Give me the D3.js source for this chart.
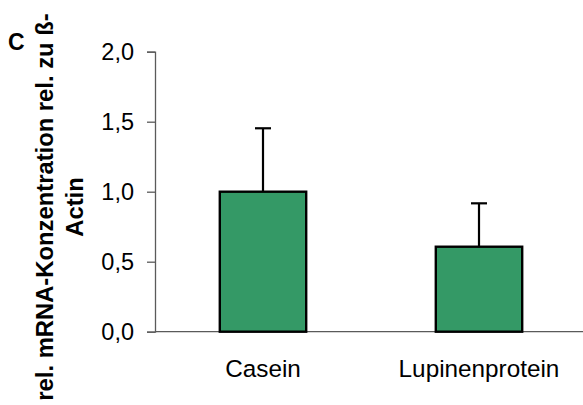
<!DOCTYPE html>
<html>
<head>
<meta charset="utf-8">
<script src="https://cdn.jsdelivr.net/npm/d3@7"></script>
<style>
  html, body { margin: 0; padding: 0; background: #fff; }
  svg { display: block; font-family: "Liberation Sans", Arial, sans-serif; }
</style>
</head>
<body>
<svg id="chart" width="583" height="405"></svg>
<script>
const categories = ["Casein", "Lupinenprotein"];
const values = [1.0, 0.607];
const errors = [0.453, 0.31];
const yTicks = [0, 0.5, 1.0, 1.5, 2.0];
const yTickLabels = ["0,0", "0,5", "1,0", "1,5", "2,0"];
const yLabelLines = ["rel. mRNA-Konzentration rel. zu ß-", "Actin"];
const panelLetter = "C";

const svg = d3.select("#chart");
const W = 583, H = 405;
const x0 = 155, yBase = 331.7, yTop = 51.7;

const x = d3.scaleBand().domain(categories).range([x0, 587]).padding(0);
const y = d3.scaleLinear().domain([0, 2]).range([yBase, yTop]);
const barW = x.bandwidth() * 0.4;

// x axis baseline
svg.append("line")
  .attr("x1", x0).attr("x2", W).attr("y1", y(0)).attr("y2", y(0))
  .attr("stroke", "#5a5a5a").attr("stroke-width", 1.3);

// y axis
const yAxis = d3.axisLeft(y).tickValues(yTicks)
  .tickFormat((d, i) => yTickLabels[i]).tickSize(8).tickPadding(13);
const gy = svg.append("g").attr("transform", `translate(${x0},0)`).call(yAxis);
gy.select(".domain").attr("stroke", "#5a5a5a").attr("stroke-width", 1.3);
gy.selectAll(".tick line").attr("stroke", "#5a5a5a").attr("stroke-width", 1.3);
gy.selectAll(".tick text").attr("font-size", 23.5).attr("fill", "#000")
  .attr("font-family", "Liberation Sans, Arial, sans-serif");

// error bars
const data = categories.map((c, i) => ({c, v: values[i], e: errors[i]}));
const cx = d => x(d.c) + x.bandwidth() / 2;
svg.selectAll(".err").data(data).enter().append("line")
  .attr("x1", cx).attr("x2", cx)
  .attr("y1", d => y(d.v)).attr("y2", d => y(d.v + d.e))
  .attr("stroke", "#000").attr("stroke-width", 2.2);
svg.selectAll(".cap").data(data).enter().append("line")
  .attr("x1", d => cx(d) - 8).attr("x2", d => cx(d) + 8)
  .attr("y1", d => y(d.v + d.e)).attr("y2", d => y(d.v + d.e))
  .attr("stroke", "#000").attr("stroke-width", 2.2);

// bars
svg.selectAll(".bar").data(data).enter().append("rect")
  .attr("x", d => cx(d) - barW / 2)
  .attr("y", d => y(d.v))
  .attr("width", barW)
  .attr("height", d => y(0) - y(d.v))
  .attr("fill", "#349966")
  .attr("stroke", "#000").attr("stroke-width", 2.4);

// category labels
svg.selectAll(".cat").data(data).enter().append("text")
  .attr("x", cx).attr("y", 377)
  .attr("text-anchor", "middle")
  .attr("font-size", 24.3).attr("fill", "#000")
  .text(d => d.c);

// y label (two lines, rotated)
const yl = svg.append("text")
  .attr("transform", "translate(53,207) rotate(-90)")
  .attr("text-anchor", "middle")
  .attr("font-size", 23.8).attr("font-weight", "bold").attr("fill", "#000");
yl.append("tspan").attr("x", 0).attr("y", 0).text(yLabelLines[0]);
yl.append("tspan").attr("x", 0).attr("y", 29.5).text(yLabelLines[1]);

// panel letter
svg.append("text").attr("x", 8).attr("y", 50)
  .attr("font-size", 23).attr("font-weight", "bold").attr("fill", "#000")
  .text(panelLetter);
</script>
</body>
</html>
